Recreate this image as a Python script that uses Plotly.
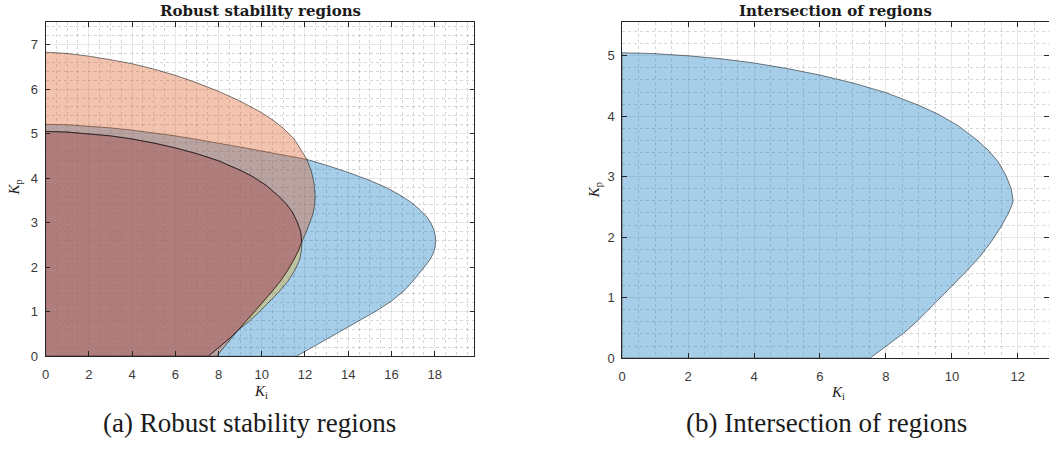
import plotly.graph_objects as go

W, H = 1049, 456

# ---------------- data ----------------
# Region 1 (blue): boundary from origin, up the Kp axis, around the nose, back to Kp=0
blue_ki = [0, 0, 1, 2, 3, 4, 5, 6, 7, 8, 9, 10, 11, 12.09, 13, 14, 15, 15.8, 16.4, 16.9, 17.3, 17.6,
           17.82, 17.96, 18.03, 18.05, 18.02, 17.92, 17.75, 17.51, 17.1, 16.6, 16.0, 15.3, 14.6, 13.9,
           13.2, 12.4, 11.6]
blue_kp = [0, 5.21, 5.2, 5.17, 5.13, 5.08, 5.02, 4.95, 4.87, 4.79, 4.7, 4.61, 4.52, 4.42, 4.29, 4.13, 3.95,
           3.78, 3.62, 3.46, 3.3, 3.15, 3.0, 2.84, 2.7, 2.6, 2.45, 2.3, 2.15, 2.0, 1.75, 1.48, 1.24, 1.02,
           0.82, 0.63, 0.44, 0.22, 0]

# Region 2 (orange): upper boundary
orange_top_ki = [0, 1, 2, 3, 4, 5, 6, 7, 8, 9, 10, 10.5, 11, 11.5, 11.8, 12.09, 12.3, 12.42, 12.47,
                 12.45, 12.36, 12.22, 12.05]
orange_top_kp = [6.83, 6.8, 6.74, 6.66, 6.57, 6.45, 6.31, 6.14, 5.95, 5.73, 5.47, 5.31, 5.12, 4.88, 4.66,
                 4.42, 4.15, 3.88, 3.6, 3.4, 3.18, 2.98, 2.78]
# Region 2 lower boundary (from the nose down to the crossing with region 3)
orange_low_ki = [11.85, 11.72, 11.5, 11.2, 10.85, 10.45, 10.02, 9.6, 9.25, 8.89]
orange_low_kp = [2.57, 2.4, 2.18, 1.93, 1.68, 1.44, 1.2, 0.96, 0.77, 0.58]
orange_foot_ki = [7.91]
orange_foot_kp = [0]

# Region 3 (yellow): upper boundary
yellow_top_ki = [0, 1, 2, 3, 4, 5, 6, 7, 8, 9, 9.6, 10.2, 10.73, 11.1, 11.4, 11.64, 11.8, 11.85]
yellow_top_kp = [5.05, 5.035, 5.0, 4.95, 4.88, 4.79, 4.68, 4.55, 4.39, 4.18, 4.03, 3.84, 3.62, 3.44, 3.25,
                 3.02, 2.8, 2.64]
# Region 3 outer lower boundary (right edge of the thin sliver)
yellow_out_ki = [11.85, 11.84, 11.76, 11.53, 11.2, 10.78, 10.31, 9.81, 9.37, 8.89]
yellow_out_kp = [2.57, 2.4, 2.18, 1.93, 1.68, 1.44, 1.2, 0.96, 0.77, 0.58]
# Region 3 foot (below the crossing)
yellow_foot_ki = [8.89, 8.53, 7.52]
yellow_foot_kp = [0.58, 0.41, 0]

origin_ki = [0]
origin_kp = [0]

# polygons built from the arrays above
orange_ki = origin_ki + orange_top_ki + orange_low_ki + orange_foot_ki
orange_kp = origin_kp + orange_top_kp + orange_low_kp + orange_foot_kp
yellow_ki = origin_ki + yellow_top_ki + yellow_out_ki + yellow_foot_ki[1:]
yellow_kp = origin_kp + yellow_top_kp + yellow_out_kp + yellow_foot_kp[1:]
inter_ki = origin_ki + yellow_top_ki + orange_low_ki + yellow_foot_ki[1:]
inter_kp = origin_kp + yellow_top_kp + orange_low_kp + yellow_foot_kp[1:]

# ---------------- styling ----------------
C_BLUE = "rgba(0,114,189,0.35)"
C_ORANGE = "rgba(217,83,25,0.35)"
C_YELLOW = "rgba(237,177,32,0.35)"
C_PURPLE = "rgba(126,47,142,0.35)"
EDGE = dict(color="rgba(0,0,0,0.72)", width=0.7)

fig = go.Figure()

def poly(x, y, fc, xa, ya):
    fig.add_trace(go.Scatter(x=x + x[:1], y=y + y[:1], mode="lines", fill="toself",
                             fillcolor=fc, line=EDGE, xaxis=xa, yaxis=ya,
                             hoverinfo="skip", showlegend=False))

poly(blue_ki, blue_kp, C_BLUE, "x", "y")
poly(orange_ki, orange_kp, C_ORANGE, "x", "y")
poly(yellow_ki, yellow_kp, C_YELLOW, "x", "y")
poly(inter_ki, inter_kp, C_PURPLE, "x", "y")
poly(inter_ki, inter_kp, C_BLUE, "x2", "y2")

def px_x(p):
    return p / W

def px_y(p):
    return 1 - p / H

AX = "#262626"
TICKFONT = dict(family="Liberation Sans, Arial, sans-serif", size=13, color="#3a3a3a")
GRID = "rgba(0,0,0,0.09)"
MGRID = "rgba(0,0,0,0.16)"

def axis(domain, rng, dtick, mdtick, anchor, standoff):
    return dict(domain=domain, range=rng, dtick=dtick, tick0=0, anchor=anchor,
                showline=True, linecolor=AX, linewidth=0.8, mirror="ticks",
                ticks="inside", ticklen=5, tickwidth=0.8, tickcolor=AX,
                tickfont=TICKFONT, ticklabelstandoff=standoff,
                showgrid=True, gridcolor=GRID, gridwidth=0.6,
                zeroline=False, fixedrange=True,
                minor=dict(dtick=mdtick, tick0=0, showgrid=True, gridcolor=MGRID,
                           griddash="dot", gridwidth=0.6, ticks=""))

fig.update_layout(
    width=W, height=H, margin=dict(l=0, r=0, t=0, b=0),
    paper_bgcolor="white", plot_bgcolor="white",
    xaxis=axis([px_x(41.7), px_x(472.3)], [0, 19.84], 2, 0.5, "y", 6),
    yaxis=axis([px_y(362.7), px_y(22.7)], [0, 7.5], 1, 0.2, "x", 4),
    xaxis2=axis([px_x(620.5), px_x(1048.5)], [0, 12.93], 2, 0.5, "y2", 6),
    yaxis2=axis([px_y(364.5), px_y(22.9)], [0, 5.55], 1, 0.2, "x2", 4),
)

SERIF = "Liberation Serif, Times New Roman, serif"
TITLE_SERIF = "DejaVu Serif, Liberation Serif, serif"
ann = []
def text(t, x, y, size, angle=0, bold=False, family=SERIF):
    ann.append(dict(text=(f"<b>{t}</b>" if bold else t), x=px_x(x), y=px_y(y),
                    xref="paper", yref="paper", showarrow=False, textangle=angle,
                    xanchor="center", yanchor="middle",
                    font=dict(family=family, size=size, color="#1a1a1a")))

text("Robust stability regions", 257, 11, 15, bold=True, family=TITLE_SERIF)
text("Intersection of regions", 835, 11, 15, bold=True, family=TITLE_SERIF)
text("<i>K</i><sub>i</sub>", 258, 399, 15)
text("<i>K</i><sub>i</sub>", 837, 400, 15)
text("<i>K</i><sub>p</sub>", 11, 191, 15, angle=-90)
text("<i>K</i><sub>p</sub>", 593, 194, 15, angle=-90)
text("(a) Robust stability regions", 246, 431, 27)
text("(b) Intersection of regions", 826, 431, 27)
fig.update_layout(annotations=ann)

fig.write_html("out.html")
